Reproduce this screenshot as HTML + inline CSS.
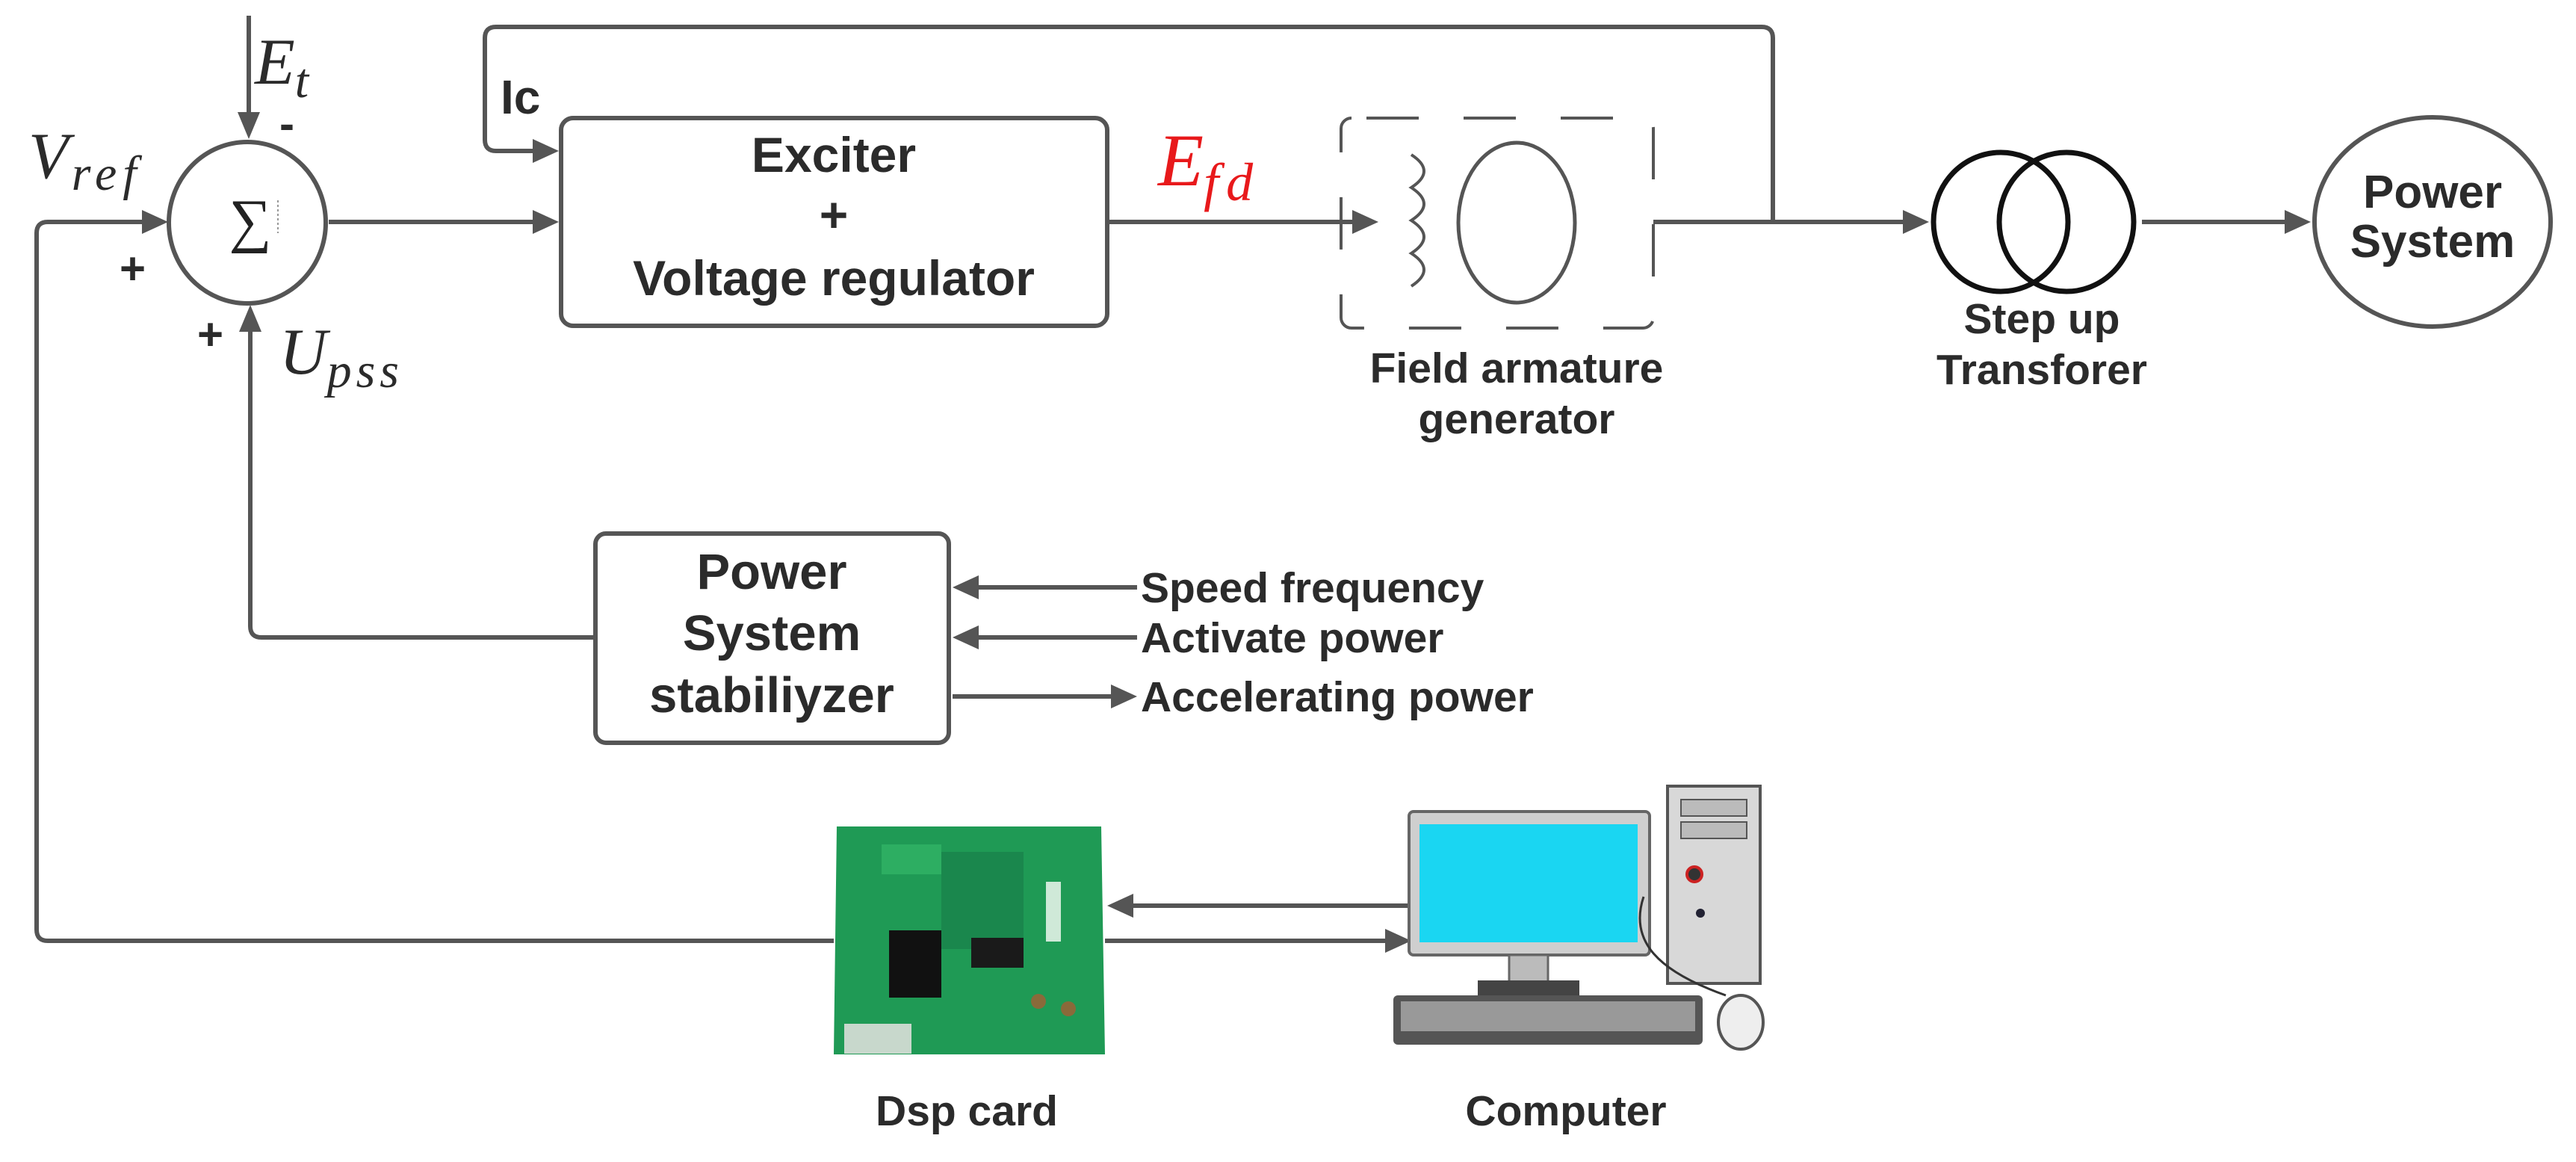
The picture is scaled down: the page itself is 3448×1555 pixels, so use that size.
<!DOCTYPE html>
<html><head><meta charset="utf-8"><style>
html,body{margin:0;padding:0;background:#fff;}
svg{display:block;}
.t{font-family:"Liberation Sans",sans-serif;font-weight:bold;fill:#2b2b2b;}
.m{font-family:"Liberation Serif",serif;font-style:italic;fill:#2b2b2b;}
</style></head><body>
<svg width="3448" height="1555" viewBox="0 0 3448 1555" xmlns="http://www.w3.org/2000/svg">
<g stroke="#555" stroke-width="6" fill="none" stroke-linecap="butt">
<path d="M333 21 V160"/>
<path d="M1116 1259 H64 Q49 1259 49 1244 V312 Q49 297 64 297 H198"/>
<path d="M797 853 H350 Q335 853 335 838 V436"/>
<path d="M440 297 H720"/>
<path d="M2373 297 V51 Q2373 36 2358 36 H664 Q649 36 649 51 V187 Q649 202 664 202 H720"/>
<path d="M1482 297 H1818"/>
<path d="M2213 297 H2555"/>
<path d="M2867 297 H3066"/>
<path d="M1522 786 H1302"/>
<path d="M1522 853 H1302"/>
<path d="M1275 932 H1495"/>
<path d="M1889 1212 H1510"/>
<path d="M1479 1259 H1862"/>
</g>
<g fill="#555">
<polygon points="333,186 318,150 348,150"/>
<polygon points="225,297 190,281 190,313"/>
<polygon points="335,408 320,444 350,444"/>
<polygon points="748,297 713,281 713,313"/>
<polygon points="748,202 713,186 713,218"/>
<polygon points="1845,297 1810,281 1810,313"/>
<polygon points="2582,297 2547,281 2547,313"/>
<polygon points="3093,297 3058,281 3058,313"/>
<polygon points="1275,786 1310,770 1310,802"/>
<polygon points="1275,853 1310,837 1310,869"/>
<polygon points="1522,932 1487,916 1487,948"/>
<polygon points="1482,1212 1517,1196 1517,1228"/>
<polygon points="1889,1259 1854,1243 1854,1275"/>
</g>
<ellipse cx="331" cy="298" rx="105" ry="108" fill="none" stroke="#555" stroke-width="6"/>
<text x="335" y="322" font-family="Liberation Serif,serif" font-size="80" text-anchor="middle" fill="#222">∑</text>
<line x1="372" y1="268" x2="372" y2="312" stroke="#999" stroke-width="2" stroke-dasharray="3,3"/>
<text class="m" x="341" y="112" font-size="88">E<tspan font-size="66" dy="18">t</tspan></text>
<text class="t" x="374" y="186" font-size="60">-</text>
<text class="m" x="38" y="238" font-size="88" letter-spacing="4">V<tspan font-size="66" dy="16" letter-spacing="8">ref</tspan></text>
<text class="t" x="160" y="380" font-size="60">+</text>
<text class="t" x="264" y="468" font-size="60">+</text>
<text class="m" x="374" y="500" font-size="88">U<tspan font-size="66" dy="18" letter-spacing="6">pss</tspan></text>
<text class="t" x="670" y="152" font-size="64">Ic</text>
<rect x="751" y="158" width="731" height="278" rx="16" fill="none" stroke="#555" stroke-width="6"/>
<text class="t" x="1116" y="230" font-size="66" text-anchor="middle">Exciter</text>
<text class="t" x="1116" y="310" font-size="66" text-anchor="middle">+</text>
<text class="t" x="1116" y="395" font-size="66" text-anchor="middle">Voltage regulator</text>
<text x="1550" y="248" font-family="Liberation Serif,serif" font-style="italic" font-size="100" fill="#e8191b">E<tspan font-size="72" dy="20" letter-spacing="10">fd</tspan></text>
<rect x="1795" y="158" width="418" height="281" rx="14" fill="none" stroke="#555" stroke-width="4" stroke-dasharray="70,60" stroke-dashoffset="-20"/>
<path d="M1889 207 q34 22 0 44 q34 22 0 44 q34 22 0 44 q34 22 0 44" fill="none" stroke="#555" stroke-width="4"/>
<ellipse cx="2030" cy="298" rx="78" ry="107" fill="none" stroke="#555" stroke-width="5"/>
<text class="t" x="2030" y="512" font-size="57" text-anchor="middle">Field armature</text>
<text class="t" x="2030" y="580" font-size="57" text-anchor="middle">generator</text>
<ellipse cx="2678" cy="297" rx="90" ry="93" fill="none" stroke="#111" stroke-width="7"/>
<ellipse cx="2766" cy="297" rx="90" ry="93" fill="none" stroke="#111" stroke-width="7"/>
<text class="t" x="2733" y="446" font-size="57" text-anchor="middle">Step up</text>
<text class="t" x="2733" y="514" font-size="57" text-anchor="middle">Transforer</text>
<ellipse cx="3256" cy="297" rx="158" ry="140" fill="none" stroke="#555" stroke-width="6"/>
<text class="t" x="3256" y="278" font-size="62" text-anchor="middle">Power</text>
<text class="t" x="3256" y="344" font-size="62" text-anchor="middle">System</text>
<rect x="797" y="714" width="473" height="280" rx="14" fill="none" stroke="#555" stroke-width="6"/>
<text class="t" x="1033" y="788" font-size="67" text-anchor="middle">Power</text>
<text class="t" x="1033" y="870" font-size="67" text-anchor="middle">System</text>
<text class="t" x="1033" y="953" font-size="67" text-anchor="middle">stabiliyzer</text>
<text class="t" x="1527" y="806" font-size="57">Speed frequency</text>
<text class="t" x="1527" y="873" font-size="57">Activate power</text>
<text class="t" x="1527" y="952" font-size="57">Accelerating power</text>
<polygon points="1120,1106 1474,1106 1479,1411 1116,1411" fill="#1f9a55"/>
<rect x="1180" y="1130" width="80" height="40" fill="#2dae62"/>
<rect x="1260" y="1140" width="110" height="130" fill="#187f4a" opacity=".7"/>
<rect x="1190" y="1245" width="70" height="90" fill="#111"/>
<rect x="1300" y="1255" width="70" height="40" fill="#1a1a1a"/>
<rect x="1400" y="1180" width="20" height="80" fill="#cfe9d8"/>
<rect x="1130" y="1370" width="90" height="40" fill="#c8d8cc"/>
<circle cx="1390" cy="1340" r="10" fill="#8a6a3a"/><circle cx="1430" cy="1350" r="10" fill="#8a6a3a"/>
<rect x="1886" y="1086" width="322" height="192" rx="6" fill="#cfcfcf" stroke="#666" stroke-width="4"/>
<rect x="1900" y="1103" width="292" height="158" fill="#1ad6f2"/>
<rect x="2020" y="1278" width="52" height="38" fill="#bbb" stroke="#666" stroke-width="3"/>
<rect x="1978" y="1312" width="136" height="22" fill="#444"/>
<rect x="2232" y="1052" width="124" height="264" fill="#d8d8d8" stroke="#555" stroke-width="4"/>
<rect x="2250" y="1070" width="88" height="22" fill="#bbb" stroke="#555" stroke-width="2"/>
<rect x="2250" y="1100" width="88" height="22" fill="#bbb" stroke="#555" stroke-width="2"/>
<circle cx="2268" cy="1170" r="10" fill="#333" stroke="#c22" stroke-width="4"/>
<circle cx="2276" cy="1222" r="6" fill="#223"/>
<rect x="1865" y="1332" width="414" height="66" rx="6" fill="#555"/>
<rect x="1875" y="1340" width="394" height="40" fill="#999"/>
<ellipse cx="2330" cy="1368" rx="30" ry="36" fill="#eee" stroke="#555" stroke-width="4"/>
<path d="M2200 1200 C2180 1260 2220 1300 2310 1332" fill="none" stroke="#333" stroke-width="3"/>
<text class="t" x="1294" y="1506" font-size="57" text-anchor="middle">Dsp card</text>
<text class="t" x="2096" y="1506" font-size="57" text-anchor="middle">Computer</text>
</svg>
</body></html>
